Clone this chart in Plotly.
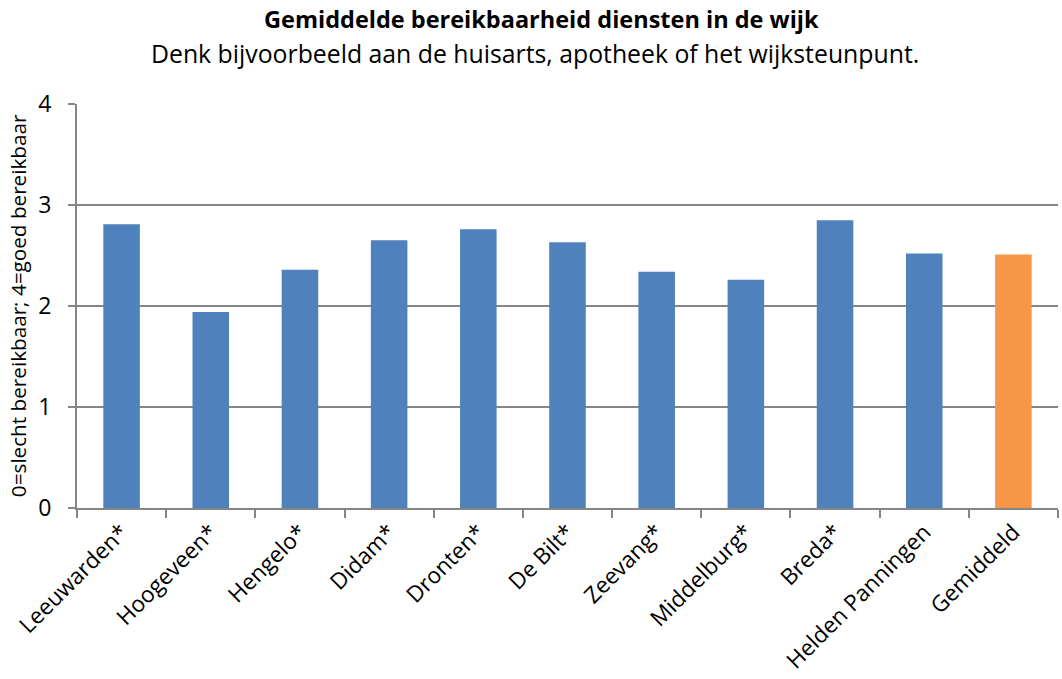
import plotly.graph_objects as go

categories = ["Leeuwarden*", "Hoogeveen*", "Hengelo*", "Didam*", "Dronten*", "De Bilt*",
              "Zeevang*", "Middelburg*", "Breda*", "Helden Panningen", "Gemiddeld"]
values = [2.81, 1.94, 2.36, 2.65, 2.76, 2.63, 2.34, 2.26, 2.85, 2.52, 2.51]
colors = ["#4F81BD"] * 10 + ["#F79646"]
y_ticks = [0, 1, 2, 3, 4]

FONT = "Open Sans"

fig = go.Figure(go.Bar(
    x=categories, y=values,
    marker=dict(color=colors, line=dict(width=0)),
    width=0.41,
))

fig.update_layout(
    width=1062, height=679,
    margin=dict(l=77, r=4, t=104, b=171),
    paper_bgcolor="white", plot_bgcolor="white",
    font=dict(family=FONT, size=22, color="black"),
    showlegend=False,
    xaxis=dict(
        showline=True, linecolor="#868686", linewidth=2,
        ticks="outside", tickson="boundaries", ticklen=8, tickcolor="#868686", tickwidth=2,
        tickangle=-45, tickfont=dict(family=FONT, size=22.5),
        showgrid=False, automargin=False,
    ),
    yaxis=dict(
        range=[0, 4], tickvals=y_ticks,
        showline=True, linecolor="#868686", linewidth=2,
        ticks="outside", ticklen=7, tickcolor="#868686", tickwidth=2,
        showgrid=True, gridcolor="#868686", gridwidth=2,
        zeroline=False, automargin=False,
        ticklabelstandoff=12,
        tickfont=dict(family=FONT, size=23),
    ),
    annotations=[
        dict(text="<b>Gemiddelde bereikbaarheid diensten in de wijk</b>",
             xref="paper", yref="paper", x=0.473, y=1.21, xanchor="center", yanchor="middle",
             showarrow=False, font=dict(family=FONT, size=23.5)),
        dict(text="Denk bijvoorbeeld aan de huisarts, apotheek of het wijksteunpunt.",
             xref="paper", yref="paper", x=0.467, y=1.126, xanchor="center", yanchor="middle",
             showarrow=False, font=dict(family=FONT, size=24.8)),
        dict(text="0=slecht bereikbaar; 4=goed bereikbaar",
             xref="paper", yref="paper", x=-0.060, y=0.5, xanchor="center", yanchor="middle",
             textangle=-90, showarrow=False, font=dict(family=FONT, size=20.7)),
    ],
)

fig.write_html("out.html", config={"displayModeBar": False},
               post_script="document.body.style.margin='0';document.body.style.overflow='hidden';")
